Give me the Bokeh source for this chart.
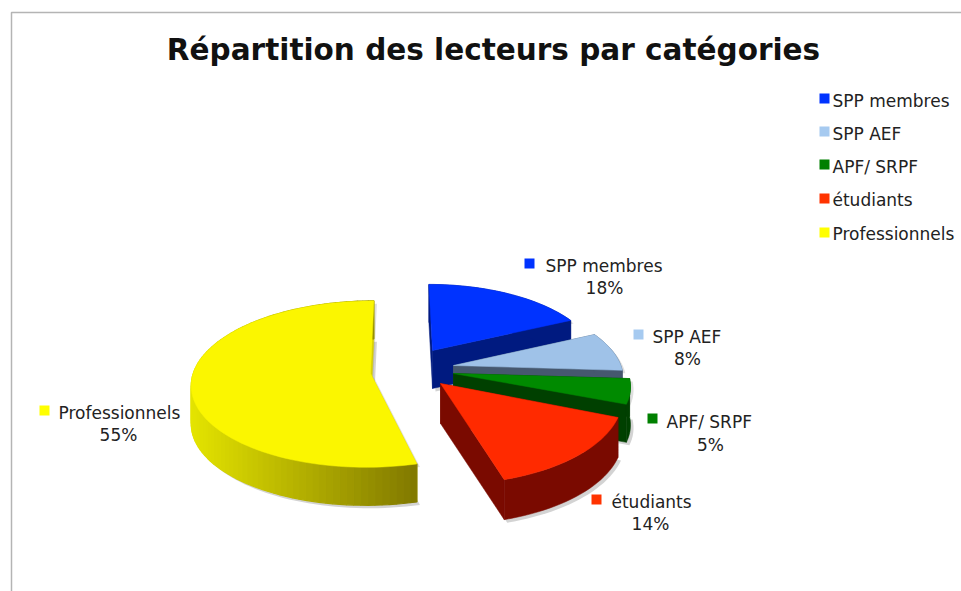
import math
from bokeh.plotting import figure
from bokeh.models import Range1d
from bokeh.core.properties import value
from bokeh.embed import file_html
from bokeh.resources import INLINE

title_text = "Répartition des lecteurs par catégories"
categories = ["SPP membres", "SPP AEF", "APF/ SRPF", "étudiants", "Professionnels"]
values = [18, 8, 5, 14, 55]
top_colors = ["#0033ff", "#9fc2e8", "#008a00", "#ff2a00", "#fbf600"]
wall_colors = ["#001a80", "#46586f", "#004000", "#7a0a00", "#d8d000"]
legend_colors = ["#0033ff", "#a6caf0", "#008000", "#ff3300", "#ffff00"]

# layout of the exploded slices, in page pixels
apex_x = [432, 453, 453, 440, 370]
apex_y = [350, 365, 373, 383, 373]
slice_scale = [0.905, 0.93, 0.97, 1.0, 0.985]
slice_scale_y = [1.0, 1.0, 1.0, 1.07, 1.01]
start_trim = [0, 0, 0, 0, 3.5]
end_trim = [0, 0, 0, 1.5, 0]
depths = [38, 38, 38, 40, 38]
RX, RY, PERSP, VX = 180, 82.3, 0.127, 400

legend_marker_y = [98, 131, 164, 198, 232]
legend_y = [100, 133, 166, 199, 233]
label_marker_x = [529, 638, 652, 596, 44]
label_marker_y = [263, 334, 418, 499, 410]
label_x = [545, 652, 666, 611, 58]
label_y = [265, 336, 421, 501, 412]
pct_x = [604, 687, 710, 650, 118]
pct_y = [287, 358, 444, 523, 434]

FONT = value("DejaVu Sans")

p = figure(width=961, height=591, output_backend="svg", toolbar_location=None,
           x_range=Range1d(0, 961), y_range=Range1d(591, 0),
           min_border=0, outline_line_color=None)
p.axis.visible = False
p.grid.visible = False
p.background_fill_color = "white"


def project(i, theta):
    t = math.radians(theta)
    X, Y = math.sin(t), math.cos(t)
    s = 1 / (1 + PERSP * Y)
    ox, oy = apex_x[i], apex_y[i]
    return (VX + (ox - VX) * s + RX * X * s * slice_scale[i],
            oy - RY * Y * s * slice_scale[i] * slice_scale_y[i])


def mix(c1, c2, t):
    return "#%02x%02x%02x" % tuple(round(a + (b - a) * t) for a, b in zip(c1, c2))


total = sum(values)
slices = []
cum = 0
for i, v in enumerate(values):
    a0 = cum / total * 360 + start_trim[i]
    cum += v
    a1 = cum / total * 360 + end_trim[i]
    n = max(6, int((a1 - a0) / 2))
    arc = [project(i, a0 + (a1 - a0) * k / n) for k in range(n + 1)]
    slices.append(arc)

# soft shadows first
for i, arc in enumerate(slices):
    xs = [apex_x[i]] + [q[0] for q in arc]
    ys = [apex_y[i]] + [q[1] for q in arc]
    p.patch([x + 3 for x in xs], [y + depths[i] + 3 for y in ys],
            fill_color="#808080", fill_alpha=0.35, line_color=None)
    p.patch([x + 3 for x in xs], [y + 3 for y in ys],
            fill_color="#808080", fill_alpha=0.25, line_color=None)

for i, arc in enumerate(slices):
    ax, ay = apex_x[i], apex_y[i]
    wall = wall_colors[i]
    d = depths[i]
    for q in (arc[0], arc[-1]):
        p.patch([ax, q[0], q[0], ax], [ay, q[1], q[1] + d, ay + d],
                fill_color=wall, line_color=wall, line_width=0.5)
    if i == 4:
        xmin = min(q[0] for q in arc)
        xmax = max(q[0] for q in arc)
        for a, b in zip(arc[:-1], arc[1:]):
            col = mix((0xe4, 0xe4, 0x00), (0x80, 0x78, 0x00),
                      ((a[0] + b[0]) / 2 - xmin) / (xmax - xmin))
            p.patch([a[0], b[0], b[0], a[0]],
                    [a[1], b[1], b[1] + d, a[1] + d],
                    fill_color=col, line_color=col, line_width=1.2)
    else:
        p.patch([q[0] for q in arc] + [q[0] for q in reversed(arc)],
                [q[1] for q in arc] + [q[1] + d for q in reversed(arc)],
                fill_color=wall, line_color=wall, line_width=0.5)
    p.patch([ax] + [q[0] for q in arc], [ay] + [q[1] for q in arc],
            fill_color=top_colors[i], line_color=top_colors[i], line_width=0.5)

# chart frame
p.line([11, 11, 961], [591, 12, 12], line_color="#b4b4b4", line_width=1.5)

p.text([493], [49], text=[title_text], text_font=FONT, text_font_style="bold",
       text_font_size="29.5px", text_color="#111111", text_align="center",
       text_baseline="middle")

# legend
p.scatter([824] * 5, legend_marker_y, marker="square", size=10,
          color=legend_colors, line_color=None)
p.text([832] * 5, legend_y, text=categories, text_font=FONT, text_font_size="17px",
       text_color="#222222", text_align="left", text_baseline="middle")

# data labels
p.scatter(label_marker_x, label_marker_y, marker="square", size=10,
          color=legend_colors, line_color=None)
p.text(label_x, label_y, text=categories, text_font=FONT, text_font_size="17px",
       text_color="#222222", text_align="left", text_baseline="middle")
p.text(pct_x, pct_y, text=[f"{v}%" for v in values], text_font=FONT,
       text_font_size="17px", text_color="#222222", text_align="center",
       text_baseline="middle")

open("out.html", "w").write(file_html(p, INLINE))
